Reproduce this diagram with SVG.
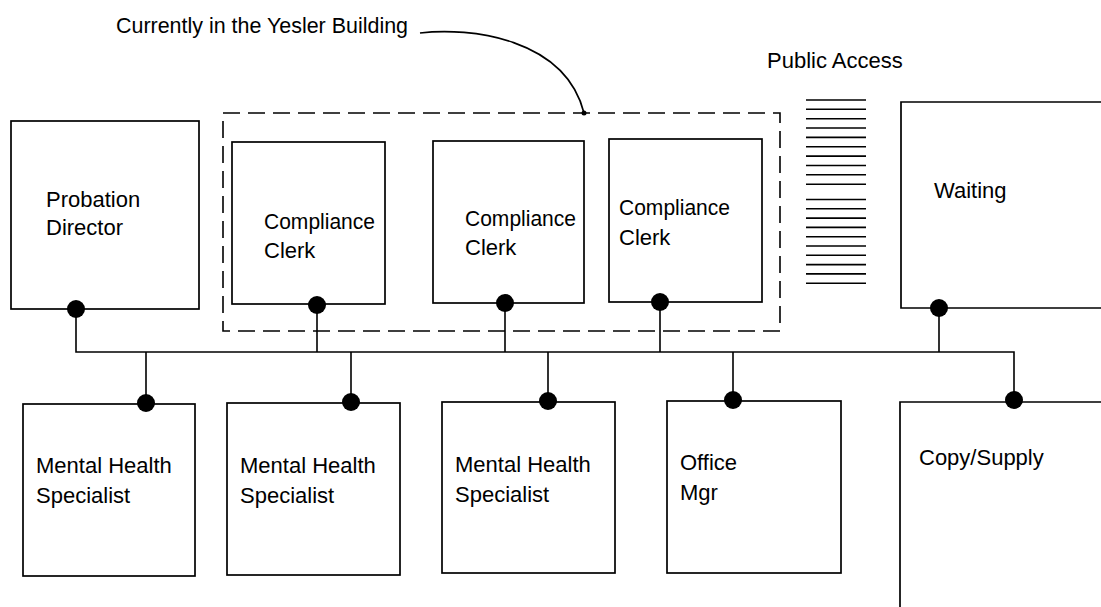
<svg xmlns="http://www.w3.org/2000/svg" width="1101" height="607" viewBox="0 0 1101 607">
<style>
.box{fill:none;stroke:#000;stroke-width:1.7}
.lbl{font-family:"Liberation Sans",Arial,sans-serif;font-size:22px;fill:#000}
.wire{fill:none;stroke:#000;stroke-width:1.6}
.dot{fill:#000}
.hatch{stroke:#000;stroke-width:1.6}
.dash{fill:none;stroke:#000;stroke-width:1.6;stroke-dasharray:17 8}
</style>
<rect width="1101" height="607" fill="#fff"/>

<g id="yesler-note">
<text class="lbl" x="116" y="33" textLength="292" lengthAdjust="spacingAndGlyphs">Currently in the Yesler Building</text>
<path class="wire" d="M420,33 C470,27 565,38 584,113"/>
<circle class="dot" cx="584" cy="113" r="2.5"/>
</g>

<g id="yesler-group">
<rect class="dash" x="223" y="113" width="557" height="218"/>
</g>

<g id="public-access">
<text class="lbl" x="767" y="68">Public Access</text>
<g class="hatch">
<line x1="806" y1="100" x2="866" y2="100"/>
<line x1="806" y1="109.3" x2="866" y2="109.3"/>
<line x1="806" y1="118.7" x2="866" y2="118.7"/>
<line x1="806" y1="128" x2="866" y2="128"/>
<line x1="806" y1="137.4" x2="866" y2="137.4"/>
<line x1="806" y1="146.8" x2="866" y2="146.8"/>
<line x1="806" y1="156.1" x2="866" y2="156.1"/>
<line x1="806" y1="165.5" x2="866" y2="165.5"/>
<line x1="806" y1="174.8" x2="866" y2="174.8"/>
<line x1="806" y1="184.2" x2="866" y2="184.2"/>
<line x1="806" y1="199.5" x2="866" y2="199.5"/>
<line x1="806" y1="208.8" x2="866" y2="208.8"/>
<line x1="806" y1="218.1" x2="866" y2="218.1"/>
<line x1="806" y1="227.4" x2="866" y2="227.4"/>
<line x1="806" y1="236.7" x2="866" y2="236.7"/>
<line x1="806" y1="246" x2="866" y2="246"/>
<line x1="806" y1="255.3" x2="866" y2="255.3"/>
<line x1="806" y1="264.6" x2="866" y2="264.6"/>
<line x1="806" y1="273.9" x2="866" y2="273.9"/>
<line x1="806" y1="283.2" x2="866" y2="283.2"/>
</g>
</g>

<g id="connectors">
<path class="wire" d="M76,309 V352 H1014 V399"/>
<path class="wire" d="M317,306 V352 M505,304 V352 M660,302 V352 M939,308 V352"/>
<path class="wire" d="M146,352 V403 M351,352 V403 M548,352 V402 M733,352 V401"/>
</g>

<g id="probation-director">
<rect class="box" x="11" y="121" width="188" height="188"/>
<text class="lbl" x="46" y="207">Probation</text>
<text class="lbl" x="46" y="235">Director</text>
<circle class="dot" cx="76" cy="309" r="9"/>
</g>

<g id="compliance-clerk-1">
<rect class="box" x="232" y="142" width="153" height="162"/>
<text class="lbl" x="264" y="229" textLength="111" lengthAdjust="spacingAndGlyphs">Compliance</text>
<text class="lbl" x="264" y="258">Clerk</text>
<circle class="dot" cx="317" cy="305" r="9"/>
</g>

<g id="compliance-clerk-2">
<rect class="box" x="433" y="141" width="151" height="162"/>
<text class="lbl" x="465" y="226" textLength="111" lengthAdjust="spacingAndGlyphs">Compliance</text>
<text class="lbl" x="465" y="255">Clerk</text>
<circle class="dot" cx="505" cy="303" r="9"/>
</g>

<g id="compliance-clerk-3">
<rect class="box" x="609" y="139" width="153" height="163"/>
<text class="lbl" x="619" y="215" textLength="111" lengthAdjust="spacingAndGlyphs">Compliance</text>
<text class="lbl" x="619" y="245">Clerk</text>
<circle class="dot" cx="660" cy="302" r="9"/>
</g>

<g id="waiting">
<path class="box" d="M1101,102 H901 V308 H1101"/>
<text class="lbl" x="934" y="198">Waiting</text>
<circle class="dot" cx="939" cy="308" r="9"/>
</g>

<g id="mhs-1">
<rect class="box" x="23" y="404" width="172" height="172"/>
<text class="lbl" x="36" y="473">Mental Health</text>
<text class="lbl" x="36" y="503">Specialist</text>
<circle class="dot" cx="146" cy="403" r="9"/>
</g>

<g id="mhs-2">
<rect class="box" x="227" y="403" width="173" height="172"/>
<text class="lbl" x="240" y="473">Mental Health</text>
<text class="lbl" x="240" y="503">Specialist</text>
<circle class="dot" cx="351" cy="402" r="9"/>
</g>

<g id="mhs-3">
<rect class="box" x="442" y="402" width="173" height="171"/>
<text class="lbl" x="455" y="472">Mental Health</text>
<text class="lbl" x="455" y="502">Specialist</text>
<circle class="dot" cx="548" cy="401" r="9"/>
</g>

<g id="office-mgr">
<rect class="box" x="667" y="401" width="174" height="172"/>
<text class="lbl" x="680" y="470">Office</text>
<text class="lbl" x="680" y="500">Mgr</text>
<circle class="dot" cx="733" cy="400" r="9"/>
</g>

<g id="copy-supply">
<path class="box" d="M900,607 V402 H1101"/>
<text class="lbl" x="919" y="465">Copy/Supply</text>
<circle class="dot" cx="1014" cy="400" r="9"/>
</g>
</svg>
